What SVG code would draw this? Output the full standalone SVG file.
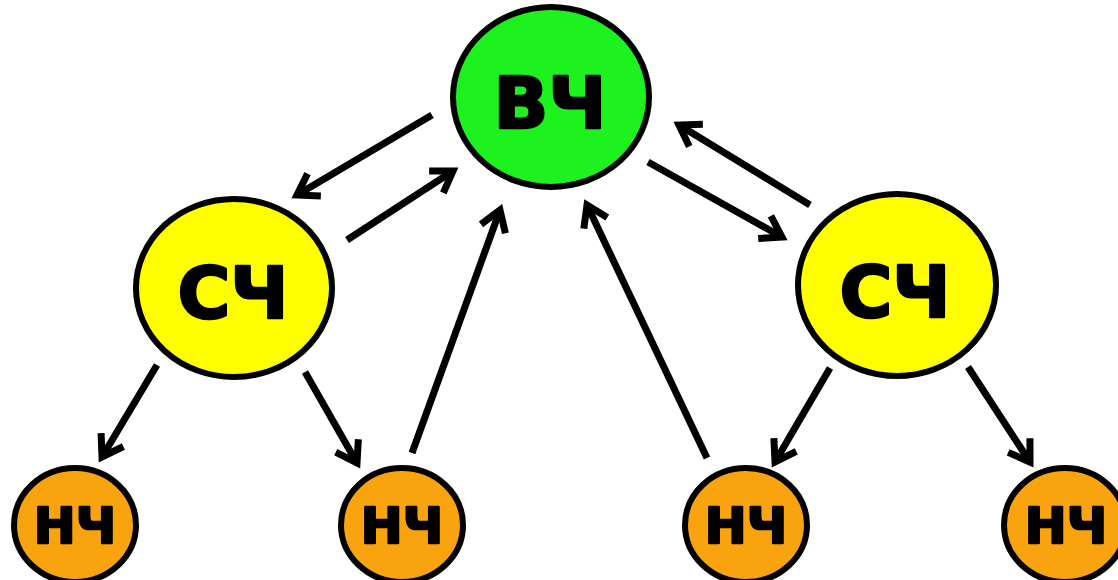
<svg xmlns="http://www.w3.org/2000/svg" width="1118" height="580" viewBox="0 0 1118 580">
<defs>
<marker id="arr" viewBox="-30 -15 36 30" refX="0" refY="0" markerWidth="36" markerHeight="30" markerUnits="userSpaceOnUse" orient="auto" overflow="visible">
<path d="M-20,-13 L0,0 L-20,13" fill="none" stroke="#000" stroke-width="7" stroke-linejoin="miter" stroke-linecap="butt"/>
</marker>
</defs>
<style>
.n{stroke:#000;stroke-width:6}
.hi{fill:#1ef21e}
.mid{fill:#ffff00}
.lo{fill:#f9a30f}
text{font-family:"DejaVu Sans","Liberation Sans",sans-serif;font-weight:bold;fill:#000;stroke:#000;stroke-width:2.5;stroke-linejoin:round;text-anchor:middle}
.big{font-size:72px}
.sm{font-size:50px}
.c line{stroke:#000;stroke-width:7;marker-end:url(#arr)}
</style>
<rect width="1118" height="580" fill="#fff"/>
<g id="n-vch">
<ellipse class="n hi" cx="551" cy="97" rx="98" ry="90"/>
<text class="big" x="550" y="128">ВЧ</text>
</g>
<g id="n-sch-left">
<ellipse class="n mid" cx="234" cy="288" rx="98" ry="89"/>
<text class="big" x="233" y="318">СЧ</text>
</g>
<g id="n-sch-right">
<ellipse class="n mid" cx="897" cy="285" rx="99" ry="91"/>
<text class="big" x="895" y="317">СЧ</text>
</g>
<g id="n-nch-1">
<ellipse class="n lo" cx="75" cy="525" rx="61" ry="57"/>
<text class="sm" x="75" y="543">НЧ</text>
</g>
<g id="n-nch-2">
<ellipse class="n lo" cx="402" cy="525" rx="61" ry="57"/>
<text class="sm" x="402" y="543">НЧ</text>
</g>
<g id="n-nch-3">
<ellipse class="n lo" cx="746" cy="525" rx="61" ry="57"/>
<text class="sm" x="746" y="543">НЧ</text>
</g>
<g id="n-nch-4">
<ellipse class="n lo" cx="1065" cy="525" rx="61" ry="57"/>
<text class="sm" x="1066" y="543">НЧ</text>
</g>
<g id="connectors" class="c">
<line x1="432" y1="115" x2="297" y2="195"/>
<line x1="347" y1="240" x2="453" y2="171"/>
<line x1="648" y1="162" x2="782" y2="237"/>
<line x1="810" y1="205" x2="679" y2="125"/>
<line x1="157" y1="365" x2="102" y2="457"/>
<line x1="305" y1="372" x2="357" y2="463"/>
<line x1="412" y1="453" x2="500" y2="210"/>
<line x1="707" y1="458" x2="587" y2="205"/>
<line x1="830" y1="368" x2="775" y2="462"/>
<line x1="968" y1="367" x2="1030" y2="462"/>
</g>
</svg>
